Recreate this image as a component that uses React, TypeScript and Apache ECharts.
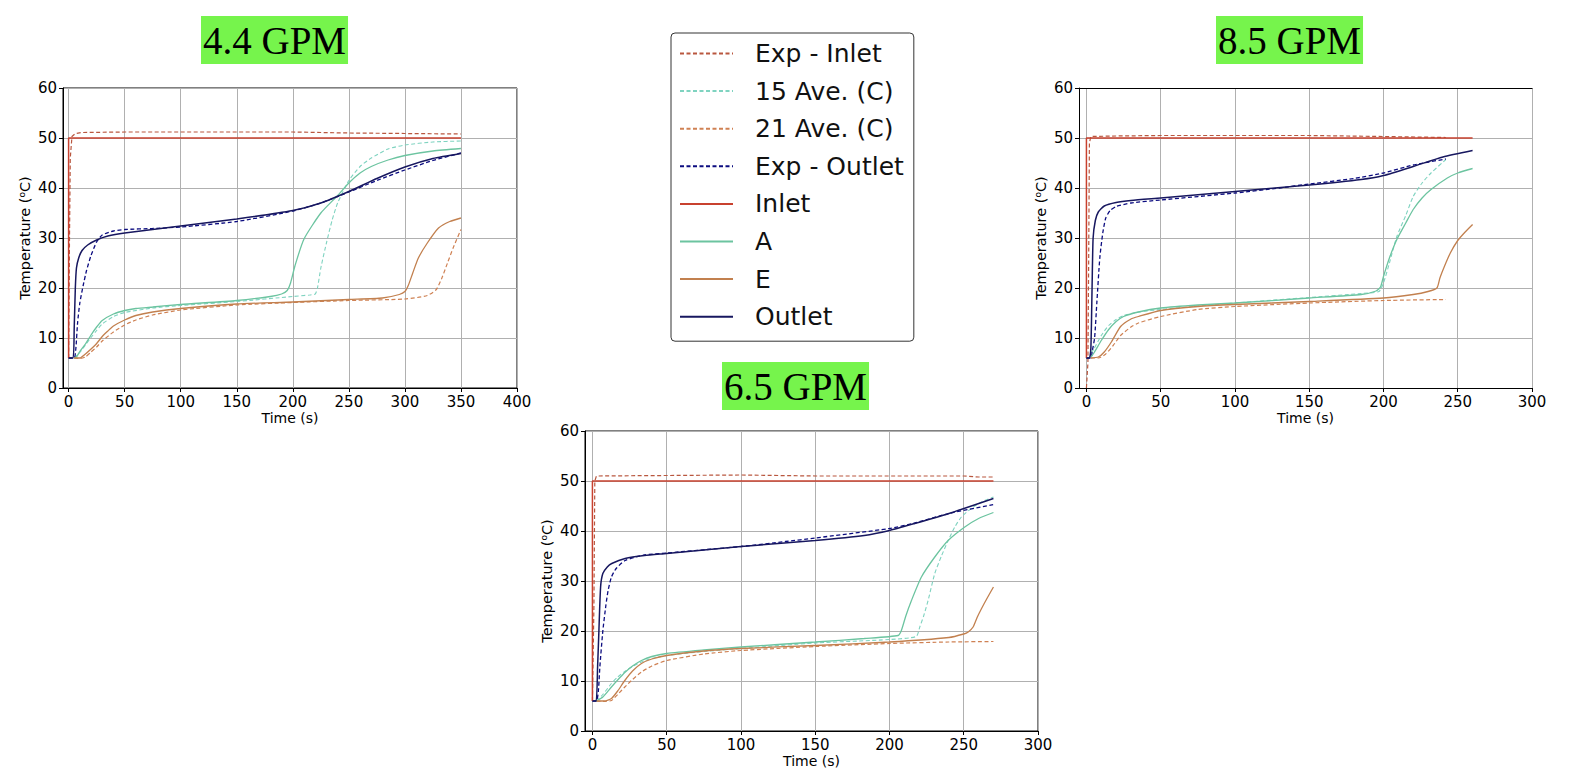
import React, { useEffect, useRef } from "react";
import * as echarts from "echarts";

// ---------- tick values ----------
const xTicks44 = [0, 50, 100, 150, 200, 250, 300, 350, 400];
const xTicks300 = [0, 50, 100, 150, 200, 250, 300];
const yTicks = [0, 10, 20, 30, 40, 50, 60];

// ---------- legend / series names ----------
const seriesNames = ["Exp - Inlet", "15 Ave. (C)", "21 Ave. (C)", "Exp - Outlet", "Inlet", "A", "E", "Outlet"];
const panelTitles = ["4.4 GPM", "8.5 GPM", "6.5 GPM"];

// ---------- 4.4 GPM ----------
const p44ExpInlet = [[0, 6], [0.8, 30], [1.5, 46], [3, 50.3], [6, 50.9], [12, 51.1], [50, 51.2], [100, 51.2], [150, 51.2], [200, 51.2], [250, 51], [300, 50.9], [350, 50.8]];
const p44Ave15 = [[5, 6], [10, 7.1], [15, 8.6], [20, 10.1], [25, 11.5], [30, 12.8], [40, 14.3], [50, 15.1], [75, 16], [100, 16.5], [150, 17.3], [200, 18.3], [215, 18.6], [220, 18.8], [222, 20], [225, 24], [230, 29], [235, 33.5], [240, 37], [250, 41.5], [260, 44.3], [270, 46], [285, 47.8], [300, 48.6], [325, 49.2], [350, 49.4]];
const p44Ave21 = [[5, 6], [10, 5.9], [15, 6.2], [20, 7.2], [25, 8.2], [30, 9.4], [40, 11.2], [50, 12.6], [60, 13.6], [75, 14.6], [100, 15.6], [150, 16.6], [200, 17.1], [250, 17.5], [300, 17.8], [320, 18.5], [328, 19.7], [333, 22], [338, 25], [343, 28], [350, 31.7]];
const p44ExpOutlet = [[0, 6], [5, 6], [6.5, 8], [8, 13], [10, 17], [13, 20.5], [16, 23.5], [20, 26.5], [25, 29.2], [30, 30.6], [40, 31.4], [50, 31.7], [75, 31.9], [100, 32.2], [150, 33.3], [200, 35.4], [225, 37], [250, 39.2], [275, 41.5], [300, 43.6], [325, 45.5], [350, 47]];
const p44Inlet = [[0, 6], [0, 50], [350, 50]];
const p44A = [[5, 6], [7, 6.2], [10, 7.3], [15, 8.8], [20, 10.6], [25, 12.2], [30, 13.5], [40, 14.8], [50, 15.5], [60, 15.9], [75, 16.2], [100, 16.7], [150, 17.5], [180, 18.3], [190, 18.8], [195, 19.5], [198, 21], [202, 24.5], [210, 29.8], [225, 35], [240, 38.5], [250, 41], [260, 43], [270, 44.3], [285, 45.6], [300, 46.5], [325, 47.4], [350, 47.9]];
const p44E = [[5, 6], [10, 6], [15, 6.8], [20, 7.8], [25, 8.9], [30, 10.3], [35, 11.4], [40, 12.4], [50, 13.6], [60, 14.5], [75, 15.2], [100, 15.9], [150, 16.8], [200, 17.2], [250, 17.7], [280, 18], [295, 18.7], [300, 19.3], [303, 20.5], [307, 23], [312, 26], [320, 29], [330, 32], [340, 33.3], [350, 34]];
const p44Outlet = [[0, 6], [4, 6], [5, 12], [6, 20], [7, 24], [9, 26], [12, 27.5], [17, 28.6], [25, 29.6], [35, 30.4], [50, 31], [100, 32.4], [150, 33.8], [200, 35.5], [225, 37], [250, 39.3], [275, 41.9], [300, 44.2], [325, 45.9], [350, 46.9]];

// ---------- 8.5 GPM ----------
const p85ExpInlet = [[0, 0], [1, 5], [1.5, 25], [2, 49], [3, 50.3], [20, 50.4], [50, 50.5], [100, 50.5], [150, 50.5], [200, 50.3], [242, 50.1]];
const p85Ave15 = [[3, 7], [5, 7.8], [10, 10.5], [15, 12.5], [20, 13.7], [25, 14.5], [35, 15.2], [50, 15.7], [75, 16.4], [100, 17], [150, 18.1], [185, 18.9], [197, 19.3], [200, 21], [204, 25], [209, 30.3], [215, 34.5], [220, 38.3], [226, 41], [232, 43], [242, 45.7]];
const p85Ave21 = [[3, 6], [8, 6], [13, 6.8], [18, 8.5], [23, 10.5], [30, 12.2], [35, 13], [50, 14.3], [75, 15.7], [100, 16.3], [150, 17], [200, 17.5], [242, 17.7]];
const p85ExpOutlet = [[0, 6], [3, 6], [4, 7.5], [5.5, 10], [7, 17], [9, 26], [11, 31], [13, 34], [16, 35.5], [20, 36.3], [30, 37], [50, 37.6], [100, 39], [130, 40], [150, 40.8], [180, 41.9], [200, 43], [220, 44.6], [242, 45.8]];
const p85Inlet = [[0, 6], [0, 50], [260, 50]];
const p85A = [[3, 6.2], [5, 7], [10, 9.5], [15, 11.7], [20, 13.3], [25, 14.3], [35, 15.2], [50, 16], [75, 16.6], [100, 17], [150, 18], [185, 18.7], [195, 19.4], [198, 20.2], [200, 22.3], [204, 26], [209, 29.7], [215, 33], [220, 35.7], [226, 38], [232, 39.7], [243, 42], [250, 43], [260, 43.9]];
const p85E = [[3, 6], [8, 6.2], [12, 7.2], [17, 9.3], [23, 12.3], [30, 13.8], [35, 14.3], [50, 15.5], [75, 16.3], [100, 16.7], [150, 17.3], [200, 18], [220, 18.7], [230, 19.3], [236, 20], [238, 22], [241, 24.3], [245, 27], [250, 29.5], [255, 31.2], [260, 32.7]];
const p85Outlet = [[0, 6], [2, 6], [3, 8], [3.8, 20], [4.5, 30], [6, 33.5], [8, 35.2], [12, 36.4], [20, 37.1], [30, 37.5], [50, 38], [100, 39.3], [150, 40.6], [185, 41.7], [200, 42.5], [220, 44.3], [240, 46.2], [260, 47.5]];

// ---------- 6.5 GPM ----------
const p65ExpInlet = [[0, 6], [1, 25], [1.6, 50], [2.7, 51], [50, 51.1], [100, 51.2], [150, 51], [200, 51], [250, 51], [260, 50.8], [270, 50.8]];
const p65Ave15 = [[2.7, 6], [7, 7.3], [12.8, 9.5], [17, 10.8], [21.8, 11.9], [27, 12.9], [33, 13.8], [40, 14.5], [50, 15.1], [75, 15.9], [100, 16.5], [150, 17.6], [200, 18.3], [218, 18.9], [220.4, 20.8], [223, 23], [226, 26.1], [230.5, 31.5], [235, 35], [239.5, 38.1], [244, 40.8], [248.4, 42.8], [255, 44.5], [262, 45.8], [270, 46.8]];
const p65Ave21 = [[2.7, 6], [8, 5.9], [12.8, 6.1], [17, 7.3], [21.8, 8.8], [27, 10.3], [33, 11.8], [40, 13], [50, 14.1], [75, 15.4], [100, 16.1], [150, 16.9], [200, 17.5], [240, 17.8], [270, 17.9]];
const p65ExpOutlet = [[0, 6], [2.7, 6], [4, 8], [5, 12.8], [7, 20], [9, 25], [10.5, 28], [12.8, 30.8], [16, 32.5], [22, 34.1], [35, 35.2], [50, 35.6], [100, 36.9], [130, 37.9], [150, 38.6], [200, 40.5], [217, 41.6], [240, 43.5], [270, 45.3]];
const p65Inlet = [[0, 6], [0, 50], [270, 50]];
const p65A = [[2.7, 6], [7, 6.8], [12.8, 8.8], [17, 10.2], [21.8, 11.7], [27, 13], [33, 14.1], [40, 14.9], [50, 15.5], [75, 16.2], [100, 16.8], [150, 17.8], [183, 18.5], [205.8, 19.1], [208, 20.1], [211, 23], [214.8, 26.1], [221.5, 30.8], [230.5, 34.8], [239.5, 38.1], [250.7, 40.8], [260, 42.5], [270, 43.7]];
const p65E = [[2.7, 6], [8, 6], [12.8, 6.5], [17, 8], [21.8, 10.1], [27, 12], [33, 13.5], [40, 14.4], [50, 15.1], [75, 16], [100, 16.5], [150, 17.1], [200, 17.8], [240, 18.7], [250, 19.4], [253, 19.8], [256.3, 20.8], [259, 22.7], [262, 24.5], [266, 26.7], [270, 28.8]];
const p65Outlet = [[0, 6], [2.5, 6], [3.5, 13], [4.3, 19.5], [5.5, 28.8], [7, 31.5], [10, 32.8], [13, 33.5], [22, 34.5], [35, 35.1], [50, 35.5], [100, 36.9], [150, 38.1], [183, 39.1], [200, 40.1], [217, 41.5], [240, 43.5], [270, 46.5]];

const panelData = [
  [p44ExpInlet, p44Ave15, p44Ave21, p44ExpOutlet, p44Inlet, p44A, p44E, p44Outlet],
  [p85ExpInlet, p85Ave15, p85Ave21, p85ExpOutlet, p85Inlet, p85A, p85E, p85Outlet],
  [p65ExpInlet, p65Ave15, p65Ave21, p65ExpOutlet, p65Inlet, p65A, p65E, p65Outlet],
];

// ---------- styles ----------
const seriesStyle = [
  { color: "#b9573f", dashed: true, width: 1.2 },
  { color: "#7fd3c0", dashed: true, width: 1.1 },
  { color: "#cf8153", dashed: true, width: 1.2 },
  { color: "#0c0c80", dashed: true, width: 1.3 },
  { color: "#c8412f", dashed: false, width: 1.5 },
  { color: "#6cc4a0", dashed: false, width: 1.3 },
  { color: "#c2804f", dashed: false, width: 1.3 },
  { color: "#17175f", dashed: false, width: 1.5 },
];

const FONT = "DejaVu Sans";
const grids = [
  { left: 63, top: 88, width: 454, height: 300, show: true, borderColor: "#000", borderWidth: 1 },
  { left: 1079, top: 88, width: 453, height: 300, show: false },
  { left: 585, top: 431, width: 453, height: 300, show: true, borderColor: "#000", borderWidth: 1 },
];
const titleBoxes = [
  { left: 201, top: 16 },
  { left: 1216, top: 16 },
  { left: 722, top: 362 },
];

function xAxisFor(gridIndex: number, max: number, ticks: number[]) {
  return {
    type: "value",
    gridIndex,
    min: -5,
    max,
    position: "bottom",
    axisLine: { show: true, onZero: false, lineStyle: { color: "#000", width: 1 } },
    axisTick: { show: true, length: 4, lineStyle: { color: "#000" }, customValues: ticks },
    axisLabel: { customValues: ticks, fontSize: 15, fontFamily: FONT, color: "#000", margin: 6 },
    splitLine: { show: true, lineStyle: { color: "#b0b0b0", width: 1 } },
    name: "Time (s)",
    nameLocation: "middle",
    nameGap: 23,
    nameTextStyle: { fontFamily: FONT, fontSize: 14, color: "#000" },
  };
}

function yAxisFor(gridIndex: number) {
  return {
    type: "value",
    gridIndex,
    min: yTicks[0],
    max: yTicks[yTicks.length - 1],
    interval: 10,
    axisLine: { show: true, onZero: false, lineStyle: { color: "#000", width: 1 } },
    axisTick: { show: true, length: 4, lineStyle: { color: "#000" } },
    axisLabel: { fontSize: 15, fontFamily: FONT, color: "#000", margin: 6 },
    splitLine: { show: true, lineStyle: { color: "#b0b0b0", width: 1 } },
    name: "Temperature ({sup|o}C)",
    nameLocation: "middle",
    nameRotate: 90,
    nameGap: 31,
    nameTextStyle: {
      fontFamily: FONT,
      fontSize: 14.5,
      color: "#000",
      rich: { sup: { fontFamily: FONT, fontSize: 9, color: "#000", verticalAlign: "top", lineHeight: 12 } },
    },
  };
}

export default function App() {
  const ref = useRef<HTMLDivElement>(null);
  useEffect(() => {
    if (!ref.current) return;
    const chart = echarts.init(ref.current, null, { renderer: "svg" });
    const series: any[] = [];
    panelData.forEach((panel, pi) => {
      panel.forEach((data, si) => {
        const st = seriesStyle[si];
        const isStep = si === 0 || si === 4;
        series.push({
          type: "line",
          name: seriesNames[si],
          xAxisIndex: pi,
          yAxisIndex: pi,
          data,
          symbol: "none",
          showSymbol: false,
          smooth: isStep ? false : 0.2,
          silent: true,
          z: 2 + si,
          lineStyle: { color: st.color, width: st.width, type: st.dashed ? [4, 2.5] : "solid" },
          itemStyle: { color: st.color },
        });
      });
    });
    const option: any = {
      animation: false,
      backgroundColor: "#ffffff",
      title: panelTitles.map((t, i) => ({
        text: t,
        left: titleBoxes[i].left,
        top: titleBoxes[i].top,
        padding: [2, 2, 2, 2],
        backgroundColor: "#76f44c",
        textStyle: { fontFamily: "Liberation Serif", fontSize: 39, fontWeight: "normal", color: "#000", lineHeight: 44 },
      })),
      grid: grids,
      xAxis: [
        xAxisFor(0, 400, xTicks44),
        xAxisFor(1, 300, xTicks300),
        xAxisFor(2, 300, xTicks300),
        {
          type: "value",
          gridIndex: 1,
          min: -5,
          max: 300,
          position: "top",
          axisLine: { show: true, onZero: false, lineStyle: { color: "#000", width: 1 } },
          axisTick: { show: false },
          axisLabel: { show: false },
          splitLine: { show: false },
        },
      ],
      yAxis: [yAxisFor(0), yAxisFor(1), yAxisFor(2)],
      legend: {
        orient: "vertical",
        left: 671,
        top: 33,
        data: seriesNames,
        itemWidth: 53,
        itemHeight: 14,
        itemGap: 12.6,
        padding: [8, 10, 12, 8],
        borderColor: "#333",
        borderWidth: 1,
        borderRadius: 4,
        selectedMode: false,
        itemStyle: { opacity: 0, borderWidth: 0 },
        lineStyle: { width: 2 },
        textStyle: { fontFamily: FONT, fontSize: 25, color: "#111", lineHeight: 25, padding: [0, 0, 0, 17] },
      },
      series,
    };
    chart.setOption(option);
    return () => chart.dispose();
  }, []);
  return <div ref={ref} style={{ position: "absolute", left: 0, top: 0, width: 1590, height: 776 }} />;
}
